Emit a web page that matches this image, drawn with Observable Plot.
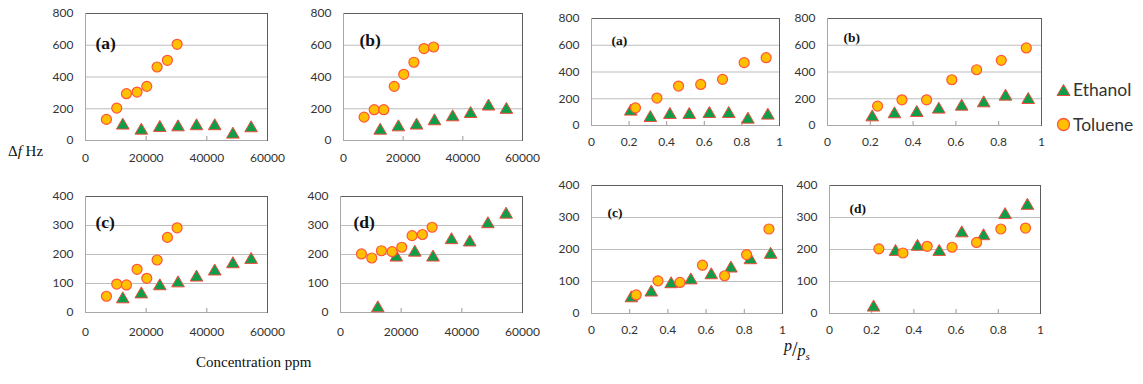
<!DOCTYPE html>
<html><head><meta charset="utf-8">
<script src="https://cdn.jsdelivr.net/npm/d3@7"></script>
<script src="https://cdn.jsdelivr.net/npm/@observablehq/plot@0.6"></script>
<style>
body{margin:0;background:#fff;}
#wrap{position:relative;width:1143px;height:384px;overflow:hidden;font-family:Lato,sans-serif;}
.pnl{position:absolute;}
.lbl{position:absolute;font-family:"Liberation Serif","Times New Roman",serif;color:#111;white-space:nowrap;}
.leg{position:absolute;font-family:Lato,sans-serif;font-size:17.5px;color:#333;display:flex;align-items:center;white-space:nowrap;}
.leg svg{margin-right:2px;}
</style></head><body><div id="wrap"></div>
<script>
// ---- tick labels ----
const concTicks = [0, 20000, 40000, 60000];
const ratioTicks = [0, 0.2, 0.4, 0.6, 0.8, 1];
const yTicksTop = [0, 200, 400, 600, 800];
const yTicksBottom = [0, 100, 200, 300, 400];
const panelNames = ["(a)", "(b)", "(c)", "(d)"];
const seriesNames = ["Ethanol", "Toluene"];

// ---- x values ----
const concToluene = [6900, 10300, 13500, 17000, 20200, 23600, 27000, 30200];
const concEthanol = [12300, 18400, 24500, 30500, 36600, 42600, 48600, 54600];
const ratioToluene = [0.234, 0.348, 0.463, 0.581, 0.697, 0.812, 0.929];
const ratioEthanol = [0.209, 0.313, 0.417, 0.520, 0.627, 0.730, 0.832, 0.938];

// ---- Δf (Hz) vs concentration ----
const concA_tol = [133, 204, 295, 305, 341, 463, 505, 606];
const concA_eth = [95, 63, 80, 84, 91, 91, 38, 78];
const concB_tol = [147, 194, 194, 341, 417, 493, 579, 589];
const concB_eth = [63, 84, 95, 122, 147, 168, 215, 194];
const concC_tol = [56, 98, 95, 149, 118, 181, 259, 292];
const concC_eth = [46, 63, 91, 101, 121, 142, 167, 182];
const concD_tol = [202, 188, 213, 210, 225, 265, 269, 294];
const concD_eth = [15, 190, 207, 190, 250, 242, 305, 338];

// ---- Δf (Hz) vs p/ps ----
const ratioA_tol = [132, 205, 295, 307, 345, 470, 507];
const ratioA_eth = [105, 57, 80, 80, 87, 87, 45, 75];
const ratioB_tol = [145, 192, 192, 342, 417, 487, 580];
const ratioB_eth = [62, 85, 95, 120, 142, 167, 217, 192];
const ratioC_tol = [58, 102, 97, 151, 118, 184, 264];
const ratioC_eth = [48, 66, 92, 104, 120, 141, 167, 184];
const ratioD_tol = [202, 189, 210, 207, 222, 264, 267];
const ratioD_eth = [19, 193, 209, 193, 251, 242, 308, 337];

const TOL_FILL = "#ffc000", TOL_STROKE = "#ff553c";
const ETH_FILL = "#109d49", ETH_STROKE = "#ef4b3c";

const wrap = document.getElementById("wrap");
const mL = 45, mR = 8, mT = 8, mB = 28;

function panel(c) {
  const eth = c.ethX.map((x, i) => ({x, y: c.eth[i]}));
  const tol = c.tolX.map((x, i) => ({x, y: c.tol[i]}));
  const inner = c.xTicks.slice(1, -1);
  const plot = Plot.plot({
    width: c.w + mL + mR, height: c.h + mT + mB,
    marginLeft: mL, marginRight: mR, marginTop: mT, marginBottom: mB,
    x: {domain: [c.xTicks[0], c.xTicks[c.xTicks.length - 1]]},
    y: {domain: [c.yTicks[0], c.yTicks[c.yTicks.length - 1]]},
    style: {fontFamily: "Lato, sans-serif", fontSize: "12px", color: "#333", background: "transparent", overflow: "visible"},
    marks: [
      Plot.gridY(c.yTicks, {stroke: "#bdbdbd", strokeOpacity: 1}),
      Plot.axisY(c.yTicks, {tickSize: 0, tickPadding: 12, label: null, tickFormat: d => String(d)}),
      Plot.axisX(c.xTicks, {tickSize: 0, tickPadding: c.xPad, label: null, tickFormat: d => String(d)}),
      Plot.frame({stroke: "#5e5e5e"}),
      Plot.ruleX([c.xTicks[0]], {stroke: "#a8a8a8"}),
      Plot.ruleY([c.yTicks[0]], {stroke: "#a8a8a8"}),
      Plot.tickX(inner, {x: d => d, insetTop: c.h - 4, stroke: "#9a9a9a"}),
      Plot.dot(eth, {x: "x", y: "y", symbol: "triangle", r: 4.7, fill: ETH_FILL, stroke: ETH_STROKE, strokeWidth: 1}),
      Plot.dot(tol, {x: "x", y: "y", symbol: "circle", r: 5, fill: TOL_FILL, stroke: TOL_STROKE, strokeWidth: 1.2}),
      Plot.text([c.label], {text: d => d, frameAnchor: "top-left", dx: c.dx, dy: c.dy, textAnchor: "start",
        fontFamily: "Liberation Serif, serif", fontWeight: "bold", fontSize: c.fs, fill: "#111"})
    ]
  });
  plot.classList.add("pnl");
  plot.style.left = (c.fx - mL) + "px";
  plot.style.top = (c.fy - mT) + "px";
  wrap.appendChild(plot);
}

// left block: concentration
panel({label: panelNames[0], fx: 85, fy: 13, w: 182, h: 127, xTicks: concTicks, yTicks: yTicksTop, xPad: 13,
  tolX: concToluene, tol: concA_tol, ethX: concEthanol, eth: concA_eth, dx: 10, dy: 23, fs: 17.5});
panel({label: panelNames[1], fx: 343, fy: 13, w: 179, h: 127, xTicks: concTicks, yTicks: yTicksTop, xPad: 13,
  tolX: concToluene, tol: concB_tol, ethX: concEthanol, eth: concB_eth, dx: 16, dy: 20, fs: 17.5});
panel({label: panelNames[2], fx: 85, fy: 196, w: 182, h: 116, xTicks: concTicks, yTicks: yTicksBottom, xPad: 15,
  tolX: concToluene, tol: concC_tol, ethX: concEthanol, eth: concC_eth, dx: 10, dy: 19, fs: 17.5});
panel({label: panelNames[3], fx: 340, fy: 196, w: 182, h: 116, xTicks: concTicks, yTicks: yTicksBottom, xPad: 15,
  tolX: concToluene, tol: concD_tol, ethX: concEthanol, eth: concD_eth, dx: 13, dy: 19, fs: 17.5});
// right block: p/ps
panel({label: panelNames[0], fx: 591, fy: 18, w: 188, h: 107, xTicks: ratioTicks, yTicks: yTicksTop, xPad: 12,
  tolX: ratioToluene, tol: ratioA_tol, ethX: ratioEthanol, eth: ratioA_eth, dx: 20, dy: 17, fs: 13.5});
panel({label: panelNames[1], fx: 827, fy: 18, w: 214, h: 107, xTicks: ratioTicks, yTicks: yTicksTop, xPad: 12,
  tolX: ratioToluene, tol: ratioB_tol, ethX: ratioEthanol, eth: ratioB_eth, dx: 16, dy: 14, fs: 13.5});
panel({label: panelNames[2], fx: 591, fy: 185, w: 191, h: 128, xTicks: ratioTicks, yTicks: yTicksBottom, xPad: 12,
  tolX: ratioToluene, tol: ratioC_tol, ethX: ratioEthanol, eth: ratioC_eth, dx: 16, dy: 22, fs: 13.5});
panel({label: panelNames[3], fx: 829, fy: 185, w: 211, h: 128, xTicks: ratioTicks, yTicks: yTicksBottom, xPad: 12,
  tolX: ratioToluene, tol: ratioD_tol, ethX: ratioEthanol, eth: ratioD_eth, dx: 20, dy: 18, fs: 13.5});

// axis titles
function addLabel(html, left, top, size) {
  const d = document.createElement("div");
  d.className = "lbl"; d.innerHTML = html;
  d.style.left = left + "px"; d.style.top = top + "px"; d.style.fontSize = size + "px";
  wrap.appendChild(d);
}
addLabel("&Delta;<i>f</i>&nbsp;Hz", 8, 143, 15);
addLabel("Concentration ppm", 196, 354, 15);
addLabel('<span style="position:relative;top:-5px"><i>p</i></span><span style="font-size:20px;font-weight:300">/</span><i>p</i><sub style="font-size:11px"><i>s</i></sub>', 784, 338, 16);

// legend
function legendItem(name, symbol, top) {
  const d = document.createElement("div");
  d.className = "leg"; d.style.left = "1056px"; d.style.top = top + "px";
  const s = symbol === "triangle"
    ? `<svg width="15" height="14"><path d="M7.5,1.5 L14,12.5 L1,12.5 Z" fill="${ETH_FILL}" stroke="${ETH_STROKE}" stroke-width="1"/></svg>`
    : `<svg width="15" height="15"><circle cx="7.5" cy="7.5" r="6" fill="${TOL_FILL}" stroke="${TOL_STROKE}" stroke-width="1.3"/></svg>`;
  d.innerHTML = s + `<span>${name}</span>`;
  wrap.appendChild(d);
}
legendItem(seriesNames[0], "triangle", 79);
legendItem(seriesNames[1], "circle", 114);
</script>
</body></html>
